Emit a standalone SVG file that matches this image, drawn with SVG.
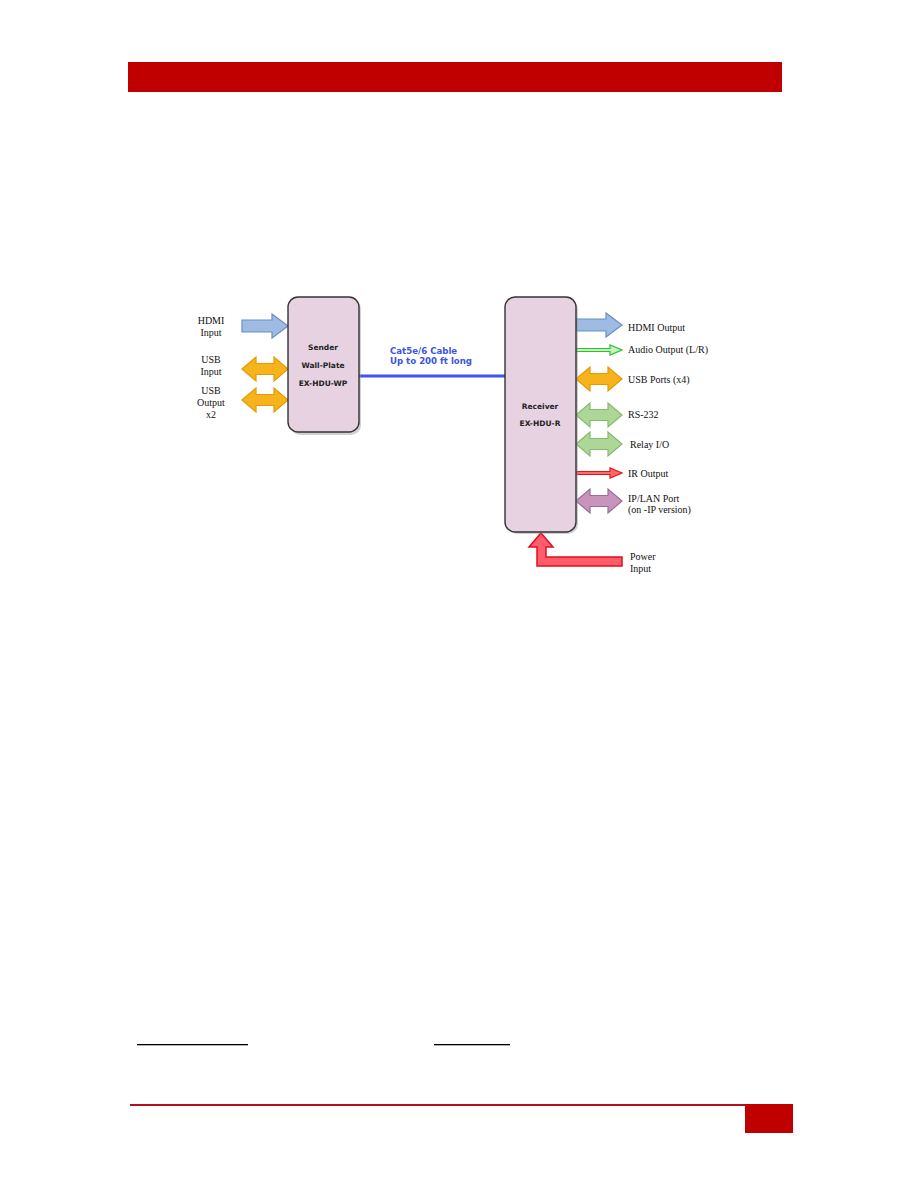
<svg xmlns="http://www.w3.org/2000/svg" xmlns:xlink="http://www.w3.org/1999/xlink" width="918" height="1188" viewBox="0 0 918 1188">
<style>
.lbl{font-family:"Liberation Serif","Times New Roman",serif;font-size:10px;fill:#111}
.lblc{font-family:"Liberation Serif","Times New Roman",serif;font-size:10px;fill:#111;text-anchor:middle}
.box{fill:#e7d2e2;stroke:#333;stroke-width:1.4}
.shadow{fill:#999;opacity:0.45}
.boxt{font-family:"DejaVu Sans",Verdana,sans-serif;font-size:7.5px;font-weight:bold;fill:#222;text-anchor:middle}
.cab{font-family:"DejaVu Sans",Verdana,sans-serif;font-size:8.6px;font-weight:bold;fill:#3d55e0}
.blue{fill:#9dbbe3;stroke:#6b8fc4;stroke-width:1.2}
.orange{fill:#f6b31c;stroke:#e39b00;stroke-width:1.2}
.green{fill:#acd796;stroke:#84bb6c;stroke-width:1.2}
.purple{fill:#c994bb;stroke:#9d6d93;stroke-width:1.2}
.agreen{fill:#c6f2bf;stroke:#2fbf2f;stroke-width:1.2}
.ared{fill:#ff6b6b;stroke:#e31515;stroke-width:1.2}
.pwr{fill:#ff5c6c;stroke:#e0101e;stroke-width:1.5}
</style>
<defs>
<path id="blk" d="M0,-6 L30,-6 L30,-12 L46,0 L30,12 L30,6 L0,6 Z"/>
<path id="dbl" d="M0,0 L14,-12 L14,-5.5 L32,-5.5 L32,-12 L46,0 L32,12 L32,5.5 L14,5.5 L14,12 Z"/>
<path id="thin" d="M0,-1.5 L34,-1.5 L34,-5 L46,0 L34,5 L34,1.5 L0,1.5 Z"/>
</defs>
<rect id="banner" x="128" y="62" width="654" height="30" fill="#c00000"/>
<g id="footer">
<rect x="130" y="1104" width="616" height="2" fill="#b3101a"/>
<rect x="745" y="1104" width="48" height="29" fill="#c00000"/>
</g>
<g id="underlines" fill="#000">
<rect x="137" y="1044" width="111" height="1.3"/>
<rect x="434" y="1044" width="76" height="1.3"/>
</g>
<g id="connectors">
<line x1="359" y1="376" x2="505" y2="376" stroke="#3d55e8" stroke-width="3"/>
<use xlink:href="#blk" class="blue" transform="translate(242,326)"/>
<use xlink:href="#dbl" class="orange" transform="translate(242,369)"/>
<use xlink:href="#dbl" class="orange" transform="translate(242,400)"/>
<use xlink:href="#blk" class="blue" transform="translate(576,325)"/>
<use xlink:href="#thin" class="agreen" transform="translate(576,350)"/>
<use xlink:href="#dbl" class="orange" transform="translate(576,379)"/>
<use xlink:href="#dbl" class="green" transform="translate(576,415)"/>
<use xlink:href="#dbl" class="green" transform="translate(576,444)"/>
<use xlink:href="#thin" class="ared" transform="translate(576,473)"/>
<use xlink:href="#dbl" class="purple" transform="translate(576,501)"/>
<path class="pwr" d="M541,533 L553,547 L546,547 L546,557 L622,557 L622,566 L537,566 L537,547 L529,547 Z"/>
</g>
<g id="cable-label">
<text class="cab" x="390" y="354">Cat5e/6 Cable</text>
<text class="cab" x="390" y="364">Up to 200 ft long</text>
</g>
<g id="sender">
<rect class="shadow" x="290" y="299" width="71" height="136" rx="10"/>
<rect class="box" x="288" y="297" width="71" height="135" rx="10"/>
<text class="boxt" x="323" y="350">Sender</text>
<text class="boxt" x="323" y="368">Wall-Plate</text>
<text class="boxt" x="323" y="386">EX-HDU-WP</text>
</g>
<g id="receiver">
<rect class="shadow" x="507" y="299" width="71" height="235" rx="10"/>
<rect class="box" x="505" y="297" width="71" height="235" rx="10"/>
<text class="boxt" x="540" y="409">Receiver</text>
<text class="boxt" x="540" y="426">EX-HDU-R</text>
</g>
<g id="left-labels">
<text class="lblc" x="211" y="324">HDMI</text>
<text class="lblc" x="211" y="336">Input</text>
<text class="lblc" x="211" y="363">USB</text>
<text class="lblc" x="211" y="375">Input</text>
<text class="lblc" x="211" y="394">USB</text>
<text class="lblc" x="211" y="406">Output</text>
<text class="lblc" x="211" y="418">x2</text>
</g>
<g id="right-labels">
<text class="lbl" x="628" y="331">HDMI Output</text>
<text class="lbl" x="628" y="353">Audio Output (L/R)</text>
<text class="lbl" x="628" y="383">USB Ports (x4)</text>
<text class="lbl" x="628" y="418">RS-232</text>
<text class="lbl" x="630" y="448">Relay I/O</text>
<text class="lbl" x="628" y="477">IR Output</text>
<text class="lbl" x="628" y="502">IP/LAN Port</text>
<text class="lbl" x="628" y="513">(on -IP version)</text>
<text class="lbl" x="630" y="560">Power</text>
<text class="lbl" x="630" y="572">Input</text>
</g>
</svg>
